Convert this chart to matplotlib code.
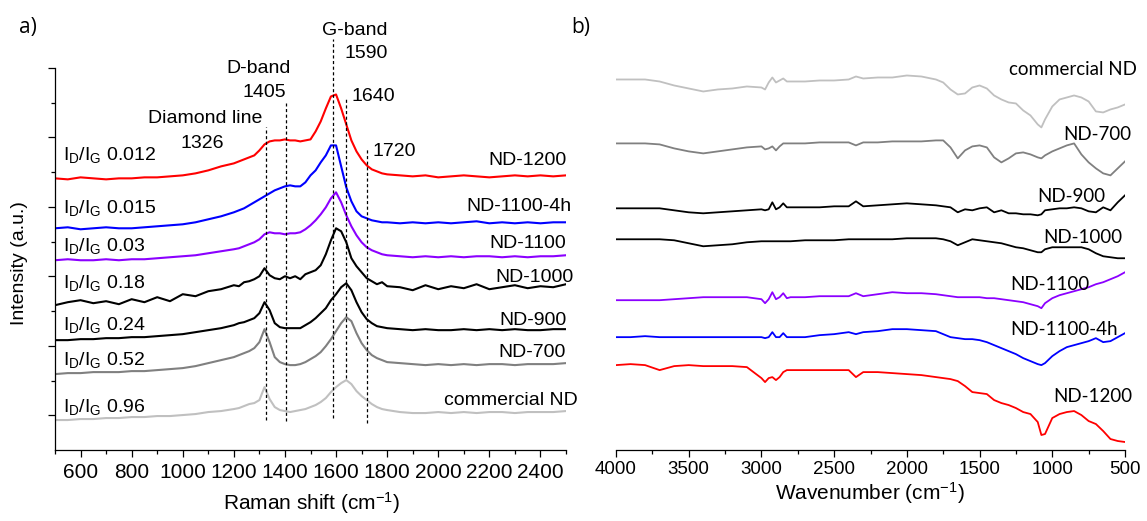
import numpy as np
import matplotlib
matplotlib.use("Agg")
import matplotlib.pyplot as plt
from matplotlib.ticker import MultipleLocator, FixedLocator

plt.rcParams['font.family'] = ['Liberation Sans', 'DejaVu Sans']
plt.rcParams['mathtext.fontset'] = 'custom'
plt.rcParams['mathtext.rm'] = 'Liberation Sans'
plt.rcParams['mathtext.it'] = 'Liberation Sans:italic'

# ================= Raman data (a) =================
raman_x = [500, 550, 600, 650, 700, 750, 800, 850, 900, 950, 1000, 1050, 1100, 1150, 1200,
           1220, 1240, 1260, 1280, 1300, 1320, 1340, 1360, 1380, 1400, 1420, 1440, 1460, 1480, 1500,
           1520, 1540, 1560, 1580, 1600, 1620, 1640, 1660, 1680, 1700, 1720, 1740, 1760, 1780, 1800,
           1850, 1900, 1950, 2000, 2050, 2100, 2150, 2200, 2250, 2300, 2350, 2400, 2450, 2500]

raman_nd1200 = [272, 271, 273, 272, 271, 272, 272, 273, 273, 274, 275, 277, 280, 284, 287,
                289, 291, 293, 295, 300, 306, 309, 310, 310, 311, 310, 310, 309, 310, 311,
                319, 329, 342, 354, 356, 342, 326, 310, 299, 291, 285, 281, 279, 277, 276,
                275, 274, 275, 273, 274, 275, 274, 273, 274, 275, 274, 275, 274, 275]
raman_nd1100_4h = [222, 223, 221, 222, 223, 222, 222, 223, 224, 225, 226, 228, 231, 234, 238,
                   240, 242, 245, 248, 251, 254, 257, 260, 262, 264, 265, 264, 264, 268, 275,
                   280, 288, 295, 305, 305, 284, 263, 249, 239, 234, 232, 230, 229, 228, 228,
                   227, 228, 227, 228, 227, 228, 229, 227, 228, 227, 228, 227, 228, 228]
raman_nd1100 = [190, 191, 190, 190, 191, 190, 191, 191, 192, 193, 194, 195, 197, 199, 201,
                202, 204, 206, 208, 211, 216, 218, 217, 217, 216, 217, 217, 218, 221, 225,
                230, 236, 243, 252, 258, 248, 235, 224, 215, 208, 203, 200, 198, 196, 195,
                194, 193, 194, 193, 194, 193, 194, 194, 193, 194, 193, 194, 194, 195]
raman_nd1000 = [145, 148, 150, 147, 149, 146, 151, 148, 153, 149, 156, 154, 159, 161, 165,
                164, 168, 169, 171, 174, 182, 175, 172, 171, 174, 172, 174, 171, 176, 178,
                180, 185, 196, 210, 222, 219, 208, 192, 184, 178, 172, 169, 166, 168, 164,
                163, 160, 165, 161, 164, 162, 166, 161, 163, 165, 162, 164, 163, 166]
raman_nd900 = [110, 110, 111, 111, 112, 112, 113, 113, 114, 115, 116, 118, 120, 122, 125,
               127, 128, 130, 132, 137, 148, 140, 127, 123, 122, 122, 122, 122, 125, 128,
               132, 137, 142, 150, 156, 163, 167, 160, 148, 138, 131, 127, 124, 123, 122,
               121, 120, 121, 120, 120, 121, 120, 121, 120, 121, 120, 120, 121, 121]
raman_nd700 = [76, 77, 77, 78, 78, 78, 79, 79, 80, 81, 82, 84, 87, 90, 93,
               95, 97, 99, 102, 108, 121, 108, 93, 88, 86, 85, 85, 86, 88, 91,
               94, 98, 104, 111, 119, 127, 133, 129, 117, 107, 100, 95, 92, 90, 88,
               87, 86, 85, 86, 85, 86, 85, 86, 86, 85, 86, 86, 86, 87]
raman_comm = [30, 30, 31, 31, 32, 32, 33, 33, 34, 34, 35, 36, 38, 39, 41,
              42, 44, 46, 47, 50, 63, 51, 43, 40, 39, 38, 39, 40, 41, 43,
              45, 48, 52, 58, 63, 67, 70, 66, 59, 54, 50, 46, 43, 41, 40,
              38, 37, 37, 38, 37, 38, 37, 38, 38, 37, 38, 38, 38, 39]

raman_names = ['ND-1200', 'ND-1100-4h', 'ND-1100', 'ND-1000', 'ND-900', 'ND-700', 'commercial ND']
ratio_text = ['0.012', '0.015', '0.03', '0.18', '0.24', '0.52', '0.96']
colors = ['#ff0000', '#0000ff', '#8b00ff', '#000000', '#000000', '#808080', '#c0c0c0']

# band markers: position, line bottom, line top
band_pos = [1326, 1405, 1590, 1640, 1720]
band_lo = [30, 29, 32, 72, 27]
band_hi = [323, 347, 412, 352, 302]

# ================= FTIR data (b) =================
ftir_x = [4000, 3900, 3800, 3700, 3600, 3500, 3400, 3300, 3200, 3100, 3000,
          2975, 2950, 2925, 2900, 2875, 2850, 2825, 2800,
          2700, 2600, 2500, 2400, 2350, 2300, 2200, 2100, 2000, 1900, 1800,
          1750, 1700, 1650, 1600, 1550, 1500, 1450, 1400, 1350, 1300, 1250, 1200, 1150, 1100,
          1075,
          1050, 1000, 950, 900, 850, 800, 750, 700, 650, 600, 550, 500]

ftir_comm = [371, 371, 371, 369, 365, 362, 359, 361, 362, 364, 363,
             361, 368, 373, 368, 370, 372, 369, 369,
             369, 370, 370, 371, 374, 372, 373, 373, 375, 374, 371,
             368, 361, 356, 357, 363, 365, 362, 355, 351, 348, 347, 340, 335, 326,
             323,
             331, 344, 351, 353, 355, 353, 349, 339, 338, 341, 343, 346]
ftir_nd700 = [307, 307, 307, 306, 302, 299, 297, 299, 301, 303, 304,
              301, 302, 304, 300, 304, 307, 307, 307,
              307, 308, 308, 308, 305, 308, 308, 309, 309, 309, 310,
              310, 303, 292, 300, 304, 305, 303, 293, 288, 292, 297, 298, 296, 293,
              292,
              295, 299, 302, 305, 307, 296, 288, 282, 277, 275, 282, 289]
ftir_nd900 = [242, 242, 242, 242, 240, 238, 237, 238, 239, 240, 241,
              240, 241, 248, 241, 243, 247, 243, 243,
              243, 243, 244, 244, 249, 244, 245, 246, 247, 246, 245,
              244, 243, 238, 241, 240, 242, 243, 238, 240, 237, 237, 236, 236, 235,
              236,
              240, 241, 242, 242, 243, 242, 239, 238, 243, 240, 248, 255]
ftir_nd1000 = [211, 211, 211, 211, 210, 207, 204, 205, 206, 208, 209,
               209, 209, 209, 209, 209, 209, 209, 209,
               210, 210, 210, 211, 211, 211, 211, 211, 212, 212, 212,
               211, 209, 205, 208, 211, 210, 209, 208, 207, 205, 203, 202, 200, 198,
               198,
               201, 203, 203, 203, 203, 203, 201, 197, 194, 193, 192, 192]
ftir_nd1100 = [150, 150, 150, 150, 151, 152, 153, 153, 153, 153, 151,
               147, 151, 158, 151, 153, 157, 152, 153,
               153, 154, 154, 154, 157, 154, 156, 158, 157, 157, 156,
               155, 154, 153, 153, 153, 153, 152, 152, 151, 150, 149, 148, 146, 144,
               142,
               147, 152, 155, 157, 159, 161, 163, 166, 168, 171, 174, 178]
ftir_nd1100_4h = [113, 113, 114, 113, 113, 113, 113, 113, 113, 113, 113,
                  112, 113, 118, 113, 113, 117, 113, 113,
                  113, 115, 116, 118, 116, 118, 119, 121, 121, 120, 119,
                  116, 113, 112, 111, 111, 110, 108, 105, 102, 99, 96, 92, 89, 86,
                  85,
                  87, 94, 99, 103, 105, 107, 109, 112, 108, 109, 113, 117]
ftir_nd1200 = [85, 86, 85, 80, 84, 85, 84, 84, 84, 83, 72,
               68, 72, 73, 70, 73, 78, 80, 80,
               80, 80, 80, 80, 73, 78, 78, 77, 76, 75, 73,
               72, 71, 69, 64, 58, 57, 56, 50, 47, 45, 42, 38, 36, 28,
               15,
               16, 32, 36, 38, 39, 35, 29, 26, 19, 11, 9, 8]

ftir_names = ['commercial ND', 'ND-700', 'ND-900', 'ND-1000', 'ND-1100', 'ND-1100-4h', 'ND-1200']
ftir_colors = ['#c0c0c0', '#808080', '#000000', '#000000', '#8b00ff', '#0000ff', '#ff0000']

# ================= figure =================
fig = plt.figure(figsize=(11.47, 5.21), dpi=100)
ax_a = fig.add_axes([55 / 1147, 71 / 521, 511 / 1147, 382 / 521])
ax_b = fig.add_axes([616 / 1147, 71 / 521, 509 / 1147, 382 / 521])

# ---- panel a ----
raman_sets = [raman_nd1200, raman_nd1100_4h, raman_nd1100, raman_nd1000,
              raman_nd900, raman_nd700, raman_comm]
for ys, c in zip(raman_sets, colors):
    ax_a.plot(raman_x, ys, color=c, lw=1.5)

for pos, lo, hi in zip(band_pos, band_lo, band_hi):
    ax_a.plot([pos, pos], [lo, hi], color='k', lw=0.9, ls=(0, (2.5, 2)), clip_on=False)

# right-side sample names (baseline heights)
name_xy = [(2504, 285), (2522, 239), (2500, 202), (2530, 168), (2503, 125), (2500, 93), (2547, 45)]
for name, (x, y) in zip(raman_names, name_xy):
    ax_a.text(x, y, name, ha='right', va='baseline', fontsize=14)

ratio_y = [290, 237, 199, 162, 120, 85, 38]
for r, y in zip(ratio_text, ratio_y):
    ax_a.text(531, y, r'I$_\mathrm{D}$/I$_\mathrm{G}$ ' + r, ha='left', va='baseline', fontsize=14)

ax_a.text(1298, 377, 'D-band', ha='center', va='baseline', fontsize=14)
ax_a.text(1318, 353, '1405', ha='center', va='baseline', fontsize=14)
ax_a.text(1087, 327, 'Diamond line', ha='center', va='baseline', fontsize=14)
ax_a.text(1076, 302, '1326', ha='center', va='baseline', fontsize=14)
ax_a.text(1674, 416, 'G-band', ha='center', va='baseline', fontsize=14)
ax_a.text(1717, 393, '1590', ha='center', va='baseline', fontsize=14)
ax_a.text(1662, 349, '1640', ha='left', va='baseline', fontsize=14)
ax_a.text(1741, 294, '1720', ha='left', va='baseline', fontsize=14)

ax_a.set_xlim(500, 2500)
ax_a.set_ylim(0, 382.5)
ax_a.set_xticks(range(600, 2401, 200))
ax_a.xaxis.set_minor_locator(MultipleLocator(100))
ax_a.yaxis.set_major_locator(FixedLocator([35, 104.5, 174, 243.5, 313, 382.5]))
ax_a.yaxis.set_minor_locator(FixedLocator([69.5, 139, 208.5, 278, 347.5]))
ax_a.set_yticklabels([])
ax_a.spines['top'].set_visible(False)
ax_a.spines['right'].set_visible(False)
ax_a.tick_params(which='major', direction='out', length=5, width=0.9, labelsize=15, pad=4)
ax_a.tick_params(which='minor', direction='out', length=3, width=0.9)
for s in ['left', 'bottom']:
    ax_a.spines[s].set_linewidth(0.9)

fig.text(311 / 1147, 11 / 521, r'Raman shift (cm$^{-1}$)', ha='center', va='baseline', fontsize=15)
fig.text(20 / 1147, 258 / 521, 'Intensity (a.u.)', ha='center', va='center', rotation=90, fontsize=14)
fig.text(19 / 1147, 1 - 33 / 521, 'a)', fontsize=15, family='Open Sans', va='baseline')

# ---- panel b ----
ftir_sets = [ftir_comm, ftir_nd700, ftir_nd900, ftir_nd1000, ftir_nd1100, ftir_nd1100_4h, ftir_nd1200]
for ys, c in zip(ftir_sets, ftir_colors):
    ax_b.plot(ftir_x, ys, color=c, lw=1.3)

ftir_label_xy = [(418, 375), (459, 310), (638, 248), (521, 207), (741, 160), (548, 115), (452, 48)]
for name, (x, y) in zip(ftir_names, ftir_label_xy):
    ax_b.text(x, y, name, ha='right', va='baseline', fontsize=13.5, family='Lato')

ax_b.set_xlim(4000, 500)
ax_b.set_ylim(0, 382.5)
ax_b.set_xticks(range(4000, 499, -500))
ax_b.xaxis.set_minor_locator(MultipleLocator(250))
ax_b.set_yticks([])
for s in ['top', 'right', 'left']:
    ax_b.spines[s].set_visible(False)
ax_b.spines['bottom'].set_linewidth(0.9)
ax_b.tick_params(which='major', direction='out', length=5, width=0.9, labelsize=13.5, pad=3)
ax_b.tick_params(which='minor', direction='out', length=3, width=0.9)

fig.text(870 / 1147, 21 / 521, r'Wavenumber (cm$^{-1}$)', ha='center', va='baseline', fontsize=15)
fig.text(571 / 1147, 1 - 33 / 521, 'b)', fontsize=15, family='Open Sans', va='baseline')

fig.savefig('out.png', dpi=100)
